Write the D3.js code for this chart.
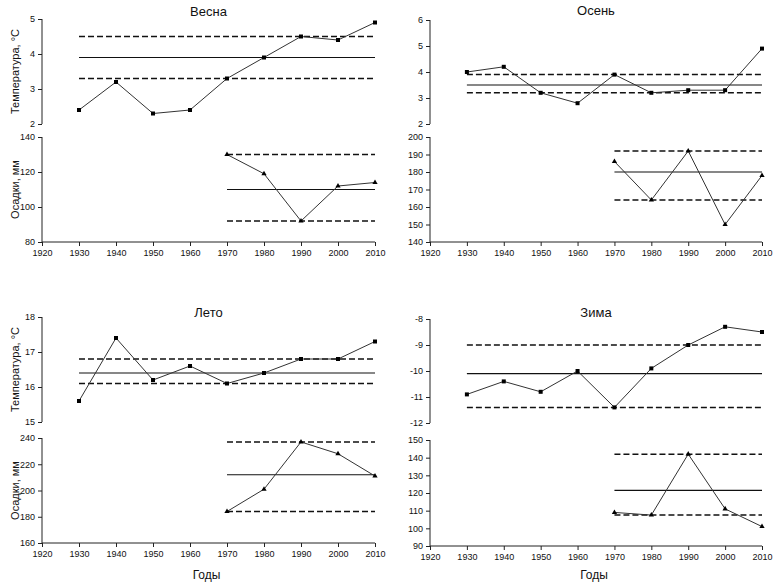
<!DOCTYPE html>
<html>
<head>
<meta charset="utf-8">
<script src="https://cdn.jsdelivr.net/npm/d3@7"></script>
<style>
body { margin: 0; background: #fff; }
text { font-family: "Liberation Sans", Arial, sans-serif; fill: #111; font-weight: normal; }
</style>
</head>
<body>
<script>
var width = 778;
var height = 584;

var years = [1930, 1940, 1950, 1960, 1970, 1980, 1990, 2000, 2010];
var precYears = [1970, 1980, 1990, 2000, 2010];
var xTicks = [1920, 1930, 1940, 1950, 1960, 1970, 1980, 1990, 2000, 2010];

var seasons = ["Весна", "Осень", "Лето", "Зима"];

// temperature, °C
var springTemp = [2.4, 3.2, 2.3, 2.4, 3.3, 3.9, 4.5, 4.4, 4.9];
var autumnTemp = [4.0, 4.2, 3.2, 2.8, 3.9, 3.2, 3.3, 3.3, 4.9];
var summerTemp = [15.6, 17.4, 16.2, 16.6, 16.1, 16.4, 16.8, 16.8, 17.3];
var winterTemp = [-10.9, -10.4, -10.8, -10.0, -11.4, -9.9, -9.0, -8.3, -8.5];

// precipitation, mm
var springPrec = [130, 119, 92, 112, 114];
var autumnPrec = [186, 164, 192, 150, 178];
var summerPrec = [184, 201, 237, 228, 211];
var winterPrec = [109, 107.5, 142, 111, 101];

// mean, upper, lower
var springTempLines = [3.9, 4.5, 3.3];
var autumnTempLines = [3.5, 3.9, 3.2];
var summerTempLines = [16.4, 16.8, 16.1];
var winterTempLines = [-10.1, -9.0, -11.4];
var springPrecLines = [110, 130, 92];
var autumnPrecLines = [180, 192, 164];
var summerPrecLines = [212, 237, 184];
var winterPrecLines = [121.5, 142, 107.5];

var tempDomains = [[2, 5], [2, 6], [15, 18], [-12, -8]];
var precDomains = [[80, 140], [140, 200], [160, 240], [90, 150]];
var tempTicks = [[2, 3, 4, 5], [2, 3, 4, 5, 6], [15, 16, 17, 18], [-12, -11, -10, -9, -8]];
var precTicks = [[80, 100, 120, 140], [140, 150, 160, 170, 180, 190, 200],
  [160, 180, 200, 220, 240], [90, 100, 110, 120, 130, 140, 150]];

var temps = [springTemp, autumnTemp, summerTemp, winterTemp];
var precs = [springPrec, autumnPrec, summerPrec, winterPrec];
var tempLines = [springTempLines, autumnTempLines, summerTempLines, winterTempLines];
var precLines = [springPrecLines, autumnPrecLines, summerPrecLines, winterPrecLines];

// panel layout
var panels = [
  {left: 42, right: 375, tTop: 19, tBot: 124, pTop: 137, pBot: 242, title: 12, yLabel: true},
  {left: 430, right: 762, tTop: 20, tBot: 124, pTop: 137, pBot: 242, title: 11, yLabel: false},
  {left: 42, right: 375, tTop: 317, tBot: 422, pTop: 438, pBot: 543, title: 313, yLabel: true},
  {left: 430, right: 762, tTop: 319, tBot: 423, pTop: 440, pBot: 546, title: 313, yLabel: false}
];

var fmt = function(d) { return String(d); };

var svg = d3.select("body").append("svg")
  .attr("width", width)
  .attr("height", height);

panels.forEach(function(p, i) {
  var g = svg.append("g");

  var x = d3.scaleLinear().domain([1920, 2010]).range([p.left, p.right]);
  var yT = d3.scaleLinear().domain(tempDomains[i]).range([p.tBot, p.tTop]);
  var yP = d3.scaleLinear().domain(precDomains[i]).range([p.pBot, p.pTop]);

  // axes
  var aT = g.append("g").attr("transform", "translate(" + p.left + ",0)")
    .call(d3.axisLeft(yT).tickValues(tempTicks[i]).tickSize(4).tickPadding(3).tickFormat(fmt));
  var aP = g.append("g").attr("transform", "translate(" + p.left + ",0)")
    .call(d3.axisLeft(yP).tickValues(precTicks[i]).tickSize(4).tickPadding(3).tickFormat(fmt));
  var aX = g.append("g").attr("transform", "translate(0," + p.pBot + ")")
    .call(d3.axisBottom(x).tickValues(xTicks).tickSize(4).tickPadding(4).tickFormat(fmt));

  [aT, aP, aX].forEach(function(a) {
    a.select(".domain").attr("stroke", "#222").attr("stroke-width", 1);
    a.selectAll(".tick line").attr("stroke", "#222");
    a.selectAll("text").style("font-size", "9px").attr("fill", "#111");
  });
  aT.select(".domain").attr("d", "M0," + p.tTop + "V" + p.tBot);
  aP.select(".domain").attr("d", "M0," + p.pTop + "V" + p.pBot);
  aX.select(".domain").attr("d", "M" + p.left + ",0H" + p.right);

  // title
  g.append("text")
    .attr("x", (p.left + p.right) / 2)
    .attr("y", p.title + 4)
    .attr("text-anchor", "middle")
    .style("font-size", "13px")
    .text(seasons[i]);

  if (p.yLabel) {
    g.append("text")
      .attr("transform", "translate(19," + (p.tTop + p.tBot) / 2 + ") rotate(-90)")
      .attr("text-anchor", "middle")
      .style("font-size", "11px")
      .text("Температура, °С");
    g.append("text")
      .attr("transform", "translate(19," + (p.pTop + p.pBot) / 2 + ") rotate(-90)")
      .attr("text-anchor", "middle")
      .style("font-size", "11px")
      .text("Осадки, мм");
  }
  if (i >= 2) {
    g.append("text")
      .attr("x", (p.left + p.right) / 2 - 2)
      .attr("y", 579)
      .attr("text-anchor", "middle")
      .style("font-size", "12px")
      .text("Годы");
  }

  // reference lines
  function refLines(vals, y, x0, x1) {
    vals.forEach(function(v, k) {
      g.append("line")
        .attr("x1", x(x0)).attr("x2", x(x1))
        .attr("y1", y(v)).attr("y2", y(v))
        .attr("stroke", "#111")
        .attr("stroke-width", k === 0 ? 1.2 : 1.5)
        .attr("stroke-dasharray", k === 0 ? null : "6,3");
    });
  }
  refLines(tempLines[i], yT, 1930, 2010);
  refLines(precLines[i], yP, 1970, 2010);

  var line = d3.line();

  g.append("path")
    .attr("d", line(years.map(function(d, k) { return [x(d), yT(temps[i][k])]; })))
    .attr("fill", "none").attr("stroke", "#333").attr("stroke-width", 1);
  g.selectAll(".sq").data(years).enter().append("rect")
    .attr("x", function(d) { return x(d) - 2; })
    .attr("y", function(d, k) { return yT(temps[i][k]) - 2; })
    .attr("width", 4).attr("height", 4)
    .attr("fill", "#000");

  g.append("path")
    .attr("d", line(precYears.map(function(d, k) { return [x(d), yP(precs[i][k])]; })))
    .attr("fill", "none").attr("stroke", "#333").attr("stroke-width", 1);
  g.selectAll(".tri").data(precYears).enter().append("path")
    .attr("d", d3.symbol().type(d3.symbolTriangle).size(12))
    .attr("transform", function(d, k) { return "translate(" + x(d) + "," + yP(precs[i][k]) + ")"; })
    .attr("fill", "#000");
});
</script>
</body>
</html>
